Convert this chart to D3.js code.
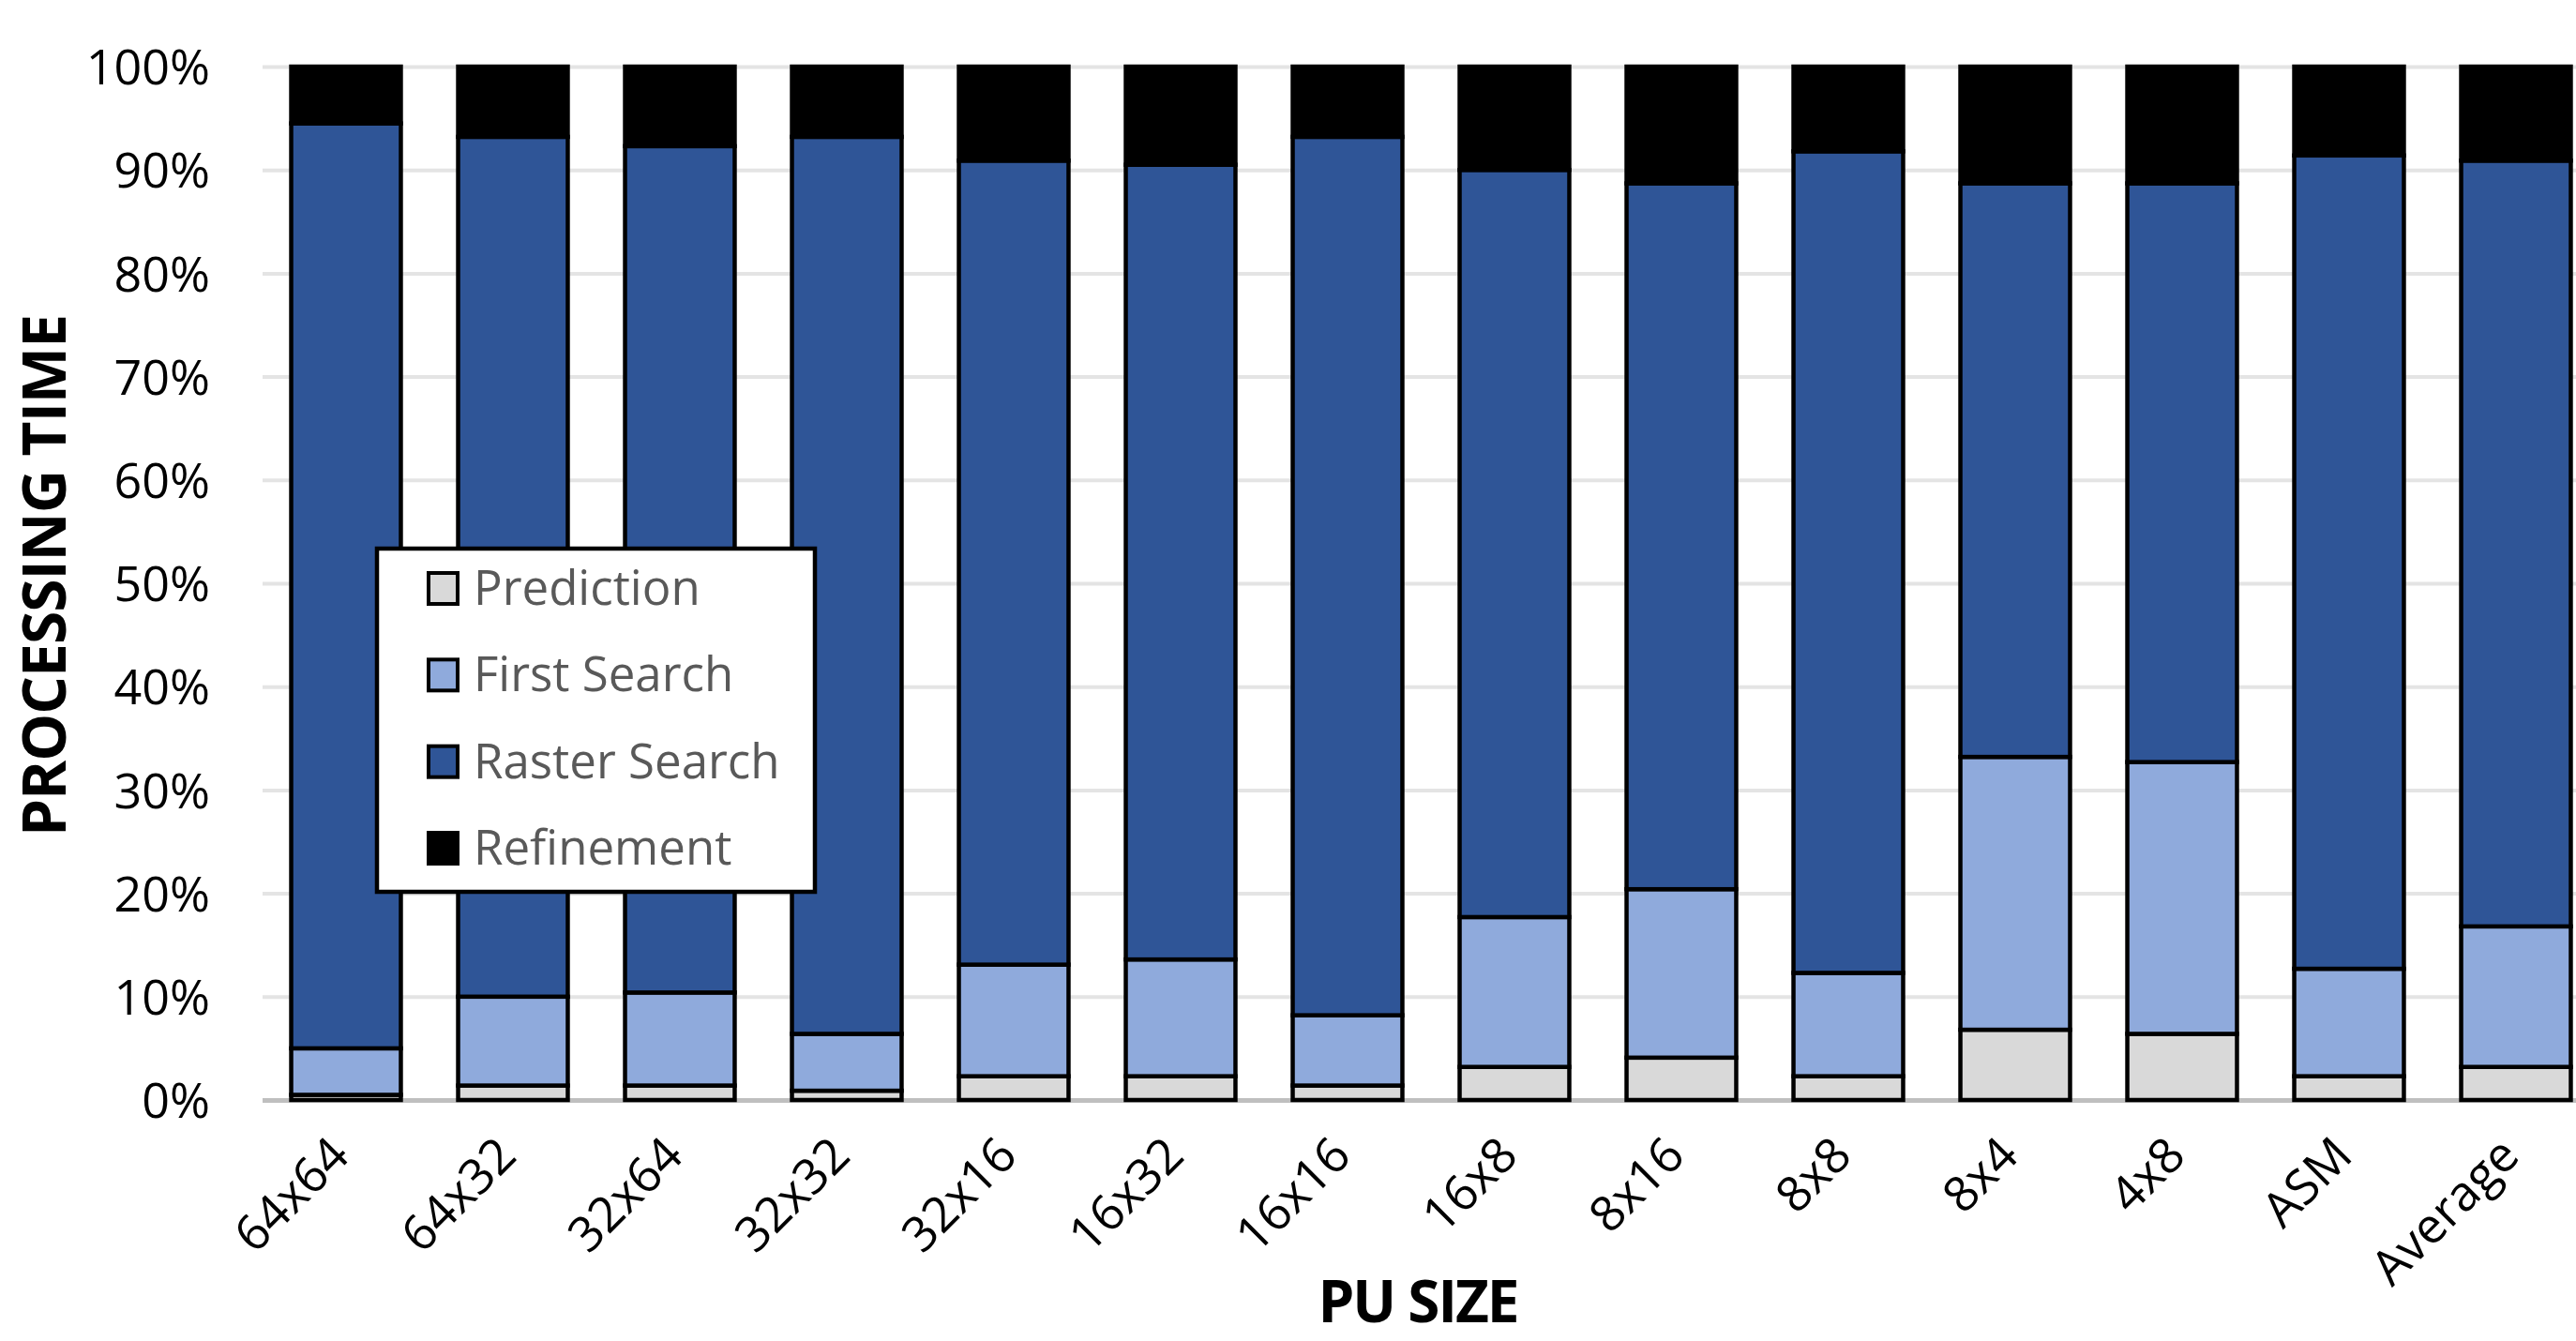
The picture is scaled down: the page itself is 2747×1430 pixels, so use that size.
<!DOCTYPE html>
<html>
<head>
<meta charset="utf-8">
<script src="https://cdn.jsdelivr.net/npm/d3@7"></script>
<style>
  html, body { margin: 0; padding: 0; background: #ffffff; }
  svg { display: block; }
  text { font-family: "Open Sans", "DejaVu Sans", sans-serif; }
</style>
</head>
<body>
<svg id="chart" width="2747" height="1430"></svg>
<script>
// PU sizes on the x axis
const categories = ["64x64", "64x32", "32x64", "32x32", "32x16", "16x32", "16x16",
                    "16x8", "8x16", "8x8", "8x4", "4x8", "ASM", "Average"];

// Share of processing time per stage (percent)
const prediction   = [0.5, 1.4, 1.4, 0.9, 2.3, 2.3, 1.4, 3.2, 4.1, 2.3, 6.8, 6.4, 2.3, 3.2];
const firstSearch  = [4.5, 8.6, 9.0, 5.5, 10.8, 11.3, 6.8, 14.5, 16.3, 10.0, 26.4, 26.3, 10.4, 13.6];
const rasterSearch = [89.5, 83.2, 81.9, 86.8, 77.8, 76.9, 85.0, 72.3, 68.3, 79.5, 55.5, 56.0, 78.7, 74.1];
const refinement   = [5.5, 6.8, 7.7, 6.8, 9.1, 9.5, 6.8, 10.0, 11.3, 8.2, 11.3, 11.3, 8.6, 9.1];

const seriesNames = ["Prediction", "First Search", "Raster Search", "Refinement"];
const seriesColors = ["#d9d9d9", "#8faadc", "#2f5597", "#000000"];

const yTicks = [0, 10, 20, 30, 40, 50, 60, 70, 80, 90, 100];

// Build row objects for the stack layout
const rows = categories.map((c, i) => ({
  category: c,
  "Prediction": prediction[i],
  "First Search": firstSearch[i],
  "Raster Search": rasterSearch[i],
  "Refinement": refinement[i]
}));

const svg = d3.select("#chart");
const W = 2747, H = 1430;
const plotLeft = 280, plotRight = 2772, plotTop = 71, plotBottom = 1173;

const x = d3.scaleBand().domain(categories).range([plotLeft, plotRight]).paddingInner(0.343).paddingOuter(0.1715);
const y = d3.scaleLinear().domain([0, 100]).range([plotBottom, plotTop]);
const color = d3.scaleOrdinal().domain(seriesNames).range(seriesColors);

// Horizontal gridlines with percentage labels
const yAxis = svg.append("g")
  .attr("transform", `translate(${plotLeft},0)`)
  .call(d3.axisLeft(y).tickValues(yTicks).tickFormat(d => d + "%").tickSize(-(W - plotLeft)).tickPadding(56));
yAxis.select(".domain").remove();
yAxis.selectAll(".tick line")
  .attr("stroke", d => d === 0 ? "#bfbfbf" : "#e4e4e4")
  .attr("stroke-width", d => d === 0 ? 5 : 4);
yAxis.selectAll(".tick text")
  .attr("fill", "#000")
  .style("font-size", "52px")
  .attr("dy", "0.36em");

// Stacked bars
const stacked = d3.stack().keys(seriesNames)(rows);
svg.append("g").selectAll("g")
  .data(stacked)
  .join("g")
  .attr("fill", d => color(d.key))
  .selectAll("rect")
  .data(d => d)
  .join("rect")
  .attr("x", d => x(d.data.category))
  .attr("width", x.bandwidth())
  .attr("y", d => y(d[1]))
  .attr("height", d => y(d[0]) - y(d[1]))
  .attr("stroke", "#000")
  .attr("stroke-width", 4.5);

// Category labels, rotated
const xLabels = svg.append("g");
categories.forEach(c => {
  xLabels.append("text")
    .attr("transform", `translate(${x(c) + x.bandwidth() / 2 + 6},${plotBottom + 62}) rotate(-45)`)
    .attr("text-anchor", "end")
    .style("font-size", "52px")
    .attr("fill", "#000")
    .text(c);
});

// Axis titles
svg.append("text")
  .attr("transform", `translate(70,${(plotTop + plotBottom) / 2 - 8}) rotate(-90)`)
  .attr("text-anchor", "middle")
  .style("font-size", "64px")
  .style("font-weight", "bold")
  .style("letter-spacing", "-1px")
  .text("PROCESSING TIME");

svg.append("text")
  .attr("x", 1512)
  .attr("y", 1410)
  .attr("text-anchor", "middle")
  .style("font-size", "62px")
  .style("font-weight", "bold")
  .style("letter-spacing", "-2px")
  .text("PU SIZE");

// Legend box
const legend = svg.append("g");
legend.append("rect")
  .attr("x", 402).attr("y", 585)
  .attr("width", 467).attr("height", 366)
  .attr("fill", "#fff")
  .attr("stroke", "#000")
  .attr("stroke-width", 4.5);

const rowY = d3.scalePoint().domain(seriesNames).range([627, 904]);
seriesNames.forEach(name => {
  legend.append("rect")
    .attr("x", 457).attr("y", rowY(name) - 16)
    .attr("width", 31).attr("height", 33)
    .attr("fill", color(name))
    .attr("stroke", "#000")
    .attr("stroke-width", 4);
  legend.append("text")
    .attr("x", 505).attr("y", rowY(name) + 18)
    .attr("fill", "#595959")
    .style("font-size", "51px")
    .text(name);
});
</script>
</body>
</html>
